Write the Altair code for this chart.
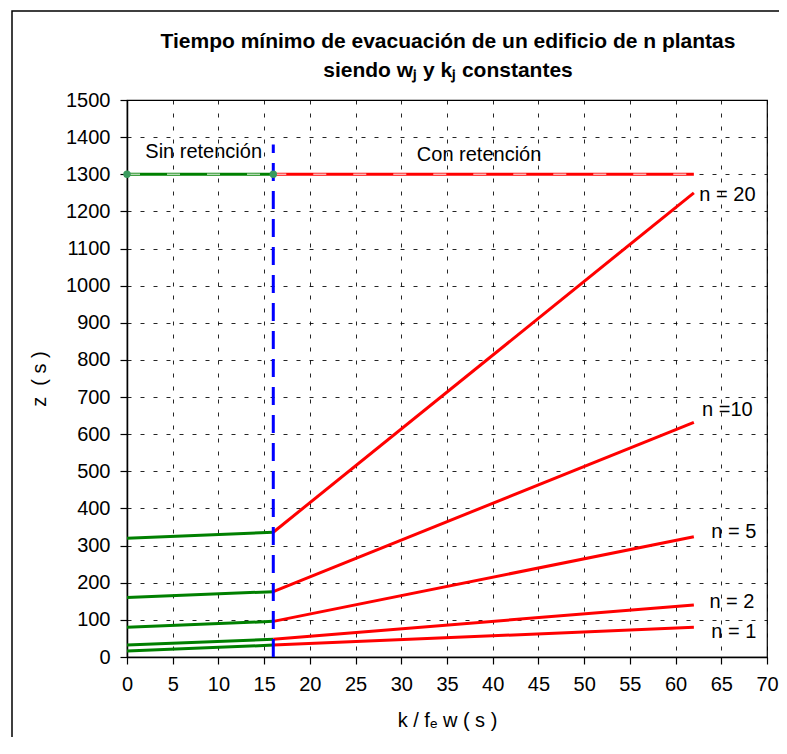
import altair as alt
import pandas as pd

# ---- data ----
ns = [1, 2, 5, 10, 20]
x_start = 0
x_knee = 16
x_end = 62
z_at_0 = [16, 32, 80, 160, 320]          # green segments start (x=0)
z_at_knee = [32, 48, 96, 176, 336]       # knee value at x=16
z_at_end = [80, 140, 324, 632, 1250]     # red segments end (x=62)
z_limit = 1300
z_blue_top = 1380

label_text = ["n = 1", "n = 2", "n = 5", "n =10", "n = 20"]
label_x = [63.9, 63.7, 63.9, 62.9, 62.6]
label_y = [67, 148, 337, 665, 1244]

zone_text = ["Sin retención", "Con retención"]
zone_x = [2, 31.7]
zone_y = [1360, 1352]

title_lines = ["Tiempo mínimo de evacuación de un edificio de n plantas",
               "siendo wⱼ y kⱼ constantes"]

x_ticks = list(range(0, 75, 5))
y_ticks = list(range(0, 1600, 100))

# ---- build tables ----
rows = []
for n, a, b, c in zip(ns, z_at_0, z_at_knee, z_at_end):
    rows += [
        {"id": f"g{n}", "x": x_start, "z": a, "tipo": "sin"},
        {"id": f"g{n}", "x": x_knee, "z": b, "tipo": "sin"},
        {"id": f"r{n}", "x": x_knee, "z": b, "tipo": "con"},
        {"id": f"r{n}", "x": x_end, "z": c, "tipo": "con"},
    ]
rows += [
    {"id": "glim", "x": x_start, "z": z_limit, "tipo": "sin"},
    {"id": "glim", "x": x_knee, "z": z_limit, "tipo": "sin"},
    {"id": "rlim", "x": x_knee, "z": z_limit, "tipo": "con"},
    {"id": "rlim", "x": x_end, "z": z_limit, "tipo": "con"},
]
lines_df = pd.DataFrame(rows)
lim_df = lines_df[lines_df["id"].isin(["glim", "rlim"])]
pts_df = pd.DataFrame({"x": [x_start, x_knee], "z": [z_limit, z_limit]})
blue_df = pd.DataFrame({"x": [x_knee, x_knee], "z": [0, z_blue_top]})
lab_df = pd.DataFrame({"t": label_text, "x": label_x, "z": label_y})
zone_df = pd.DataFrame({"t": zone_text, "x": zone_x, "z": zone_y})
one = pd.DataFrame({"k": [0]})

FONT = "Liberation Sans"

xs = alt.Scale(domain=[0, 70], nice=False, zero=False)
ys = alt.Scale(domain=[0, 1500], nice=False)
color = alt.Scale(domain=["sin", "con"], range=["#008000", "#ff0000"])

X = alt.X("x:Q", scale=xs, axis=alt.Axis(
    values=x_ticks, title="k / fₑ w ( s )", grid=True, labelOverlap=False))
Y = alt.Y("z:Q", scale=ys, axis=alt.Axis(
    values=y_ticks, title="z\u00a0\u00a0(\u00a0s\u00a0)", grid=True, format="d",
    labelOverlap=False))

base_lines = alt.Chart(lines_df).mark_line(strokeWidth=3, clip=True).encode(
    x=X, y=Y,
    color=alt.Color("tipo:N", scale=color, legend=None),
    detail="id:N",
)

lim_overlay = alt.Chart(lim_df).mark_line(
    strokeWidth=1.5, color="white", opacity=0.7, strokeDash=[13, 27]
).encode(x=X, y=Y, detail="id:N")

pts = alt.Chart(pts_df).mark_circle(size=55, color="#3a9a5e", opacity=1).encode(
    x=X, y=Y)

blue = alt.Chart(blue_df).mark_line(
    strokeWidth=3, color="#0000ff", strokeDash=[18, 10]
).encode(x=X, y=Y)

labels = alt.Chart(lab_df).mark_text(
    align="left", baseline="middle", fontSize=20, font=FONT, color="black"
).encode(x=X, y=Y, text="t:N")

zones = alt.Chart(zone_df).mark_text(
    align="left", baseline="middle", fontSize=20, font=FONT, color="black"
).encode(x=X, y=Y, text="t:N")

title1 = alt.Chart(one).mark_text(
    align="center", baseline="alphabetic", fontSize=21, fontWeight="bold",
    font=FONT, color="black", text=title_lines[0]
).encode(x=alt.value(321), y=alt.value(-52))
title2 = alt.Chart(one).mark_text(
    align="center", baseline="alphabetic", fontSize=21, fontWeight="bold",
    font=FONT, color="black", text=title_lines[1]
).encode(x=alt.value(321), y=alt.value(-23))

frame = alt.Chart(one).mark_rect(
    fill="transparent", stroke="black", strokeWidth=1.5
).encode(x=alt.value(-115), x2=alt.value(700), y=alt.value(-89), y2=alt.value(700))

chart = alt.layer(
    base_lines, lim_overlay, blue, pts, labels, zones, title1, title2, frame
).properties(
    width=640, height=557,
    autosize=alt.AutoSizeParams(type="none"),
    padding={"left": 119, "top": 92, "right": 12, "bottom": 80},
).configure_view(
    stroke="black", strokeWidth=1.2
).configure_axis(
    labelFont=FONT, labelFontSize=20, labelColor="black", labelOverlap=False,
    titleFont=FONT, titleFontSize=20, titleColor="black", titleFontWeight="normal",
    domainColor="black", domainWidth=1.5, tickColor="black", tickSize=7,
    tickWidth=1.2, gridColor="black", gridDash=[4, 9], gridWidth=1,
    gridOpacity=0.85,
).configure_axisX(
    labelPadding=10, titlePadding=16, labelFlush=False,
).configure_axisY(
    labelPadding=10, titlePadding=16,
)

chart.save("out.html", embed_options={"renderer": "svg", "actions": False})
